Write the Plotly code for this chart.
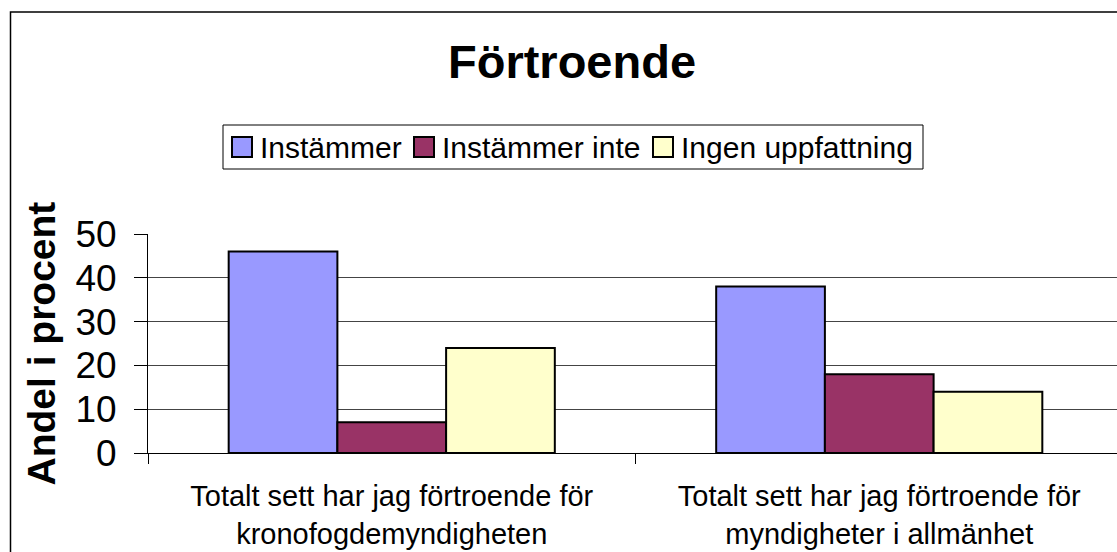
import plotly.graph_objects as go

# ---- data ----
categories = [
    "Totalt sett har jag förtroende för<br>kronofogdemyndigheten",
    "Totalt sett har jag förtroende för<br>myndigheter i allmänhet",
]
series_names = ["Instämmer", "Instämmer inte", "Ingen uppfattning"]
instammer = [46, 38]
instammer_inte = [7, 18]
ingen_uppfattning = [24, 14]
y_ticks = [0, 10, 20, 30, 40, 50]
chart_title = "Förtroende"
y_title = "Andel i procent"

# ---- styles ----
colors = ["#9999FF", "#993366", "#FFFFCC"]
FONT = "Liberation Sans, Arial, sans-serif"
W, H = 1117, 552
L, R, T, B = 148, 0, 234, 99
PW = W - L - R
PH = H - T - B
CAT_PX = 487.5  # pixel width of one category


def px(x):
    return (x - L) / PW


def py(y):
    return (H - B - y) / PH


fig = go.Figure()
for name, vals, col in zip(series_names, [instammer, instammer_inte, ingen_uppfattning], colors):
    fig.add_trace(go.Bar(
        name=name, x=categories, y=vals,
        marker=dict(color=col, line=dict(color="black", width=2)),
        showlegend=False,
    ))

shapes = []
annotations = []

# outer chart frame
shapes.append(dict(type="rect", xref="paper", yref="paper",
                   x0=px(10.5), x1=px(1135), y0=py(12), y1=py(570),
                   line=dict(color="black", width=1.5), fillcolor="rgba(0,0,0,0)", layer="below"))

# legend box
shapes.append(dict(type="rect", xref="paper", yref="paper",
                   x0=px(223), x1=px(923), y0=py(125), y1=py(169),
                   line=dict(color="black", width=1), fillcolor="white"))
sw_x = [232, 414, 653]
tx_x = [258, 440, 679]
for name, col, sx, tx in zip(series_names, colors, sw_x, tx_x):
    shapes.append(dict(type="rect", xref="paper", yref="paper",
                       x0=px(sx), x1=px(sx + 20), y0=py(137), y1=py(157),
                       line=dict(color="black", width=2), fillcolor=col))
    annotations.append(dict(text=name, xref="paper", yref="paper",
                            x=px(tx), y=py(147), xanchor="left", yanchor="middle",
                            showarrow=False, font=dict(family=FONT, size=30, color="black")))

# title
annotations.append(dict(text="<b>" + chart_title + "</b>", xref="paper", yref="paper",
                        x=px(571.5), y=py(61.5), xanchor="center", yanchor="middle",
                        showarrow=False, font=dict(family=FONT, size=47, color="black")))
# y title
annotations.append(dict(text="<b>" + y_title + "</b>", xref="paper", yref="paper",
                        x=px(41), y=0.5, xanchor="center", yanchor="middle", textangle=-90,
                        showarrow=False, font=dict(family=FONT, size=39, color="black")))

fig.update_layout(
    width=W, height=H,
    margin=dict(l=L, r=R, t=T, b=B),
    paper_bgcolor="white", plot_bgcolor="white",
    barmode="group", bargap=0.331, bargroupgap=0,
    shapes=shapes, annotations=annotations,
    font=dict(family=FONT, color="black"),
)
fig.update_xaxes(
    type="category", range=[-0.5, -0.5 + PW / CAT_PX],
    tickson="boundaries", ticks="outside", ticklen=10, tickcolor="black", tickwidth=1,
    showline=True, linecolor="black", linewidth=1, showgrid=False,
    tickfont=dict(family=FONT, size=29, color="black"), ticklabelstandoff=17,
)
fig.update_yaxes(
    range=[0, 50], tickvals=y_ticks, ticks="outside", ticklen=13, tickcolor="black", tickwidth=1,
    showline=True, linecolor="black", linewidth=1,
    showgrid=True, gridcolor="#444444", gridwidth=1, zeroline=False,
    tickfont=dict(family=FONT, size=37, color="black"), ticklabelstandoff=10,
)

fig.write_html(
    "out.html",
    config={"displayModeBar": False},
    post_script="document.body.style.margin='0px';document.body.style.overflow='hidden';",
)
